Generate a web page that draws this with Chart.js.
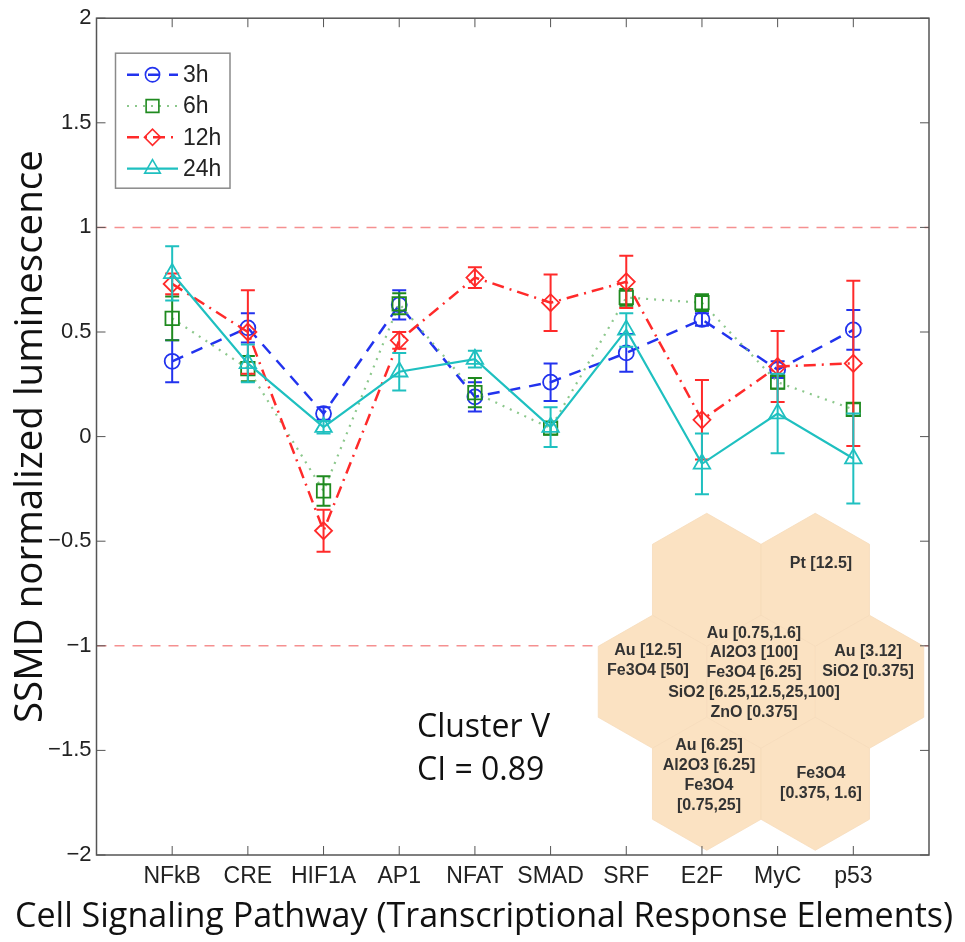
<!DOCTYPE html>
<html>
<head>
<meta charset="utf-8">
<script src="https://cdn.jsdelivr.net/npm/chart.js@4.4.1/dist/chart.umd.min.js"></script>
<style>
  body { margin: 0; background: #fff; }
  #wrap { width: 965px; height: 942px; }
</style>
</head>
<body>
<div id="wrap"><canvas id="myChart" width="965" height="942"></canvas></div>
<script>
'use strict';

// pathways on the x axis
const categories = ['NFkB', 'CRE', 'HIF1A', 'AP1', 'NFAT', 'SMAD', 'SRF', 'E2F', 'MyC', 'p53'];
const seriesNames = ['3h', '6h', '12h', '24h'];
const xTitle = 'Cell Signaling Pathway (Transcriptional Response Elements)';

// SSMD means and error bar half widths
const values3h = [0.36, 0.52, 0.11, 0.63, 0.19, 0.26, 0.40, 0.56, 0.32, 0.51];
const err3h = [0.10, 0.07, 0.03, 0.07, 0.07, 0.09, 0.09, 0.03, 0.04, 0.095];
const values6h = [0.565, 0.325, -0.26, 0.635, 0.21, 0.04, 0.665, 0.64, 0.26, 0.13];
const err6h = [0.105, 0.06, 0.07, 0.05, 0.07, 0.03, 0.04, 0.04, 0.03, 0.03];
const values12h = [0.73, 0.50, -0.45, 0.46, 0.76, 0.64, 0.74, 0.08, 0.335, 0.35];
const err12h = [0.05, 0.20, 0.10, 0.04, 0.05, 0.135, 0.125, 0.19, 0.17, 0.395];
const values24h = [0.78, 0.35, 0.045, 0.31, 0.37, 0.045, 0.51, -0.13, 0.11, -0.105];
const err24h = [0.13, 0.09, 0.03, 0.09, 0.04, 0.095, 0.08, 0.145, 0.19, 0.215];

const thresholds = [1, -1];

// hexagon inset text (cluster members)
const hexTexts = [
  [60, -118, ['Pt [12.5]']],
  [-113, -21, ['Au [12.5]', 'Fe3O4 [50]']],
  [-7, -9, ['Au [0.75,1.6]', 'Al2O3 [100]', 'Fe3O4 [6.25]', 'SiO2 [6.25,12.5,25,100]', 'ZnO [0.375]']],
  [107, -20, ['Au [3.12]', 'SiO2 [0.375]']],
  [-52, 94, ['Au [6.25]', 'Al2O3 [6.25]', 'Fe3O4', '[0.75,25]']],
  [60, 102, ['Fe3O4', '[0.375, 1.6]']]
];

function toPoints(vals) {
  return vals.map((v, i) => ({ x: i + 1, y: v }));
}

const blue = '#2233ee';
const green = '#1f8a1f';
const red = '#ff2a2a';
const cyan = '#1fc0c0';

const datasets = [
  {
    label: seriesNames[0], data: toPoints(values3h), errors: err3h, barColor: blue,
    borderColor: blue, borderWidth: 2.5, borderDash: [12, 9],
    pointStyle: 'circle', pointRadius: 7.5, pointBorderWidth: 1.8,
    pointBorderColor: blue, pointBackgroundColor: 'rgba(0,0,0,0)', order: 3
  },
  {
    label: seriesNames[1], data: toPoints(values6h), errors: err6h, barColor: green,
    borderColor: 'rgba(120,190,120,0.85)', borderWidth: 2.2, borderDash: [2, 6],
    pointStyle: 'rect', pointRadius: 9.5, pointBorderWidth: 1.8,
    pointBorderColor: green, pointBackgroundColor: 'rgba(0,0,0,0)', order: 2
  },
  {
    label: seriesNames[2], data: toPoints(values12h), errors: err12h, barColor: red,
    borderColor: red, borderWidth: 2.5, borderDash: [12, 6, 2, 6],
    pointStyle: 'rectRot', pointRadius: 8.5, pointBorderWidth: 1.8,
    pointBorderColor: red, pointBackgroundColor: 'rgba(0,0,0,0)', order: 1
  },
  {
    label: seriesNames[3], data: toPoints(values24h), errors: err24h, barColor: cyan,
    borderColor: cyan, borderWidth: 2.2, borderDash: [],
    pointStyle: 'triangle', pointRadius: 9.5, pointBorderWidth: 1.8,
    pointBorderColor: cyan, pointBackgroundColor: 'rgba(0,0,0,0)', order: 0
  }
];

const backdropPlugin = {
  id: 'backdrop',
  beforeDatasetsDraw(chart) {
    const { ctx, chartArea, scales: { x, y } } = chart;
    ctx.save();
    ctx.strokeStyle = '#f59090';
    ctx.lineWidth = 1.5;
    ctx.setLineDash([10, 8]);
    thresholds.forEach(t => {
      const py = y.getPixelForValue(t);
      ctx.beginPath();
      ctx.moveTo(chartArea.left, py);
      ctx.lineTo(chartArea.right, py);
      ctx.stroke();
    });
    ctx.setLineDash([]);

    // hexagon cluster
    const cx = x.getPixelForValue(8.78);
    const cy = y.getPixelForValue(-1.172);
    const hw = 54.25, hs = 35.5, rise = 31;
    const dy = 2 * hs + rise;
    const cells = [[-0.5, -1], [0.5, -1], [-1, 0], [0, 0], [1, 0], [-0.5, 1], [0.5, 1]];
    cells.forEach(([i, j]) => {
      const hx = cx + i * 2 * hw, hy = cy + j * dy;
      ctx.beginPath();
      ctx.moveTo(hx, hy - hs - rise);
      ctx.lineTo(hx + hw, hy - hs);
      ctx.lineTo(hx + hw, hy + hs);
      ctx.lineTo(hx, hy + hs + rise);
      ctx.lineTo(hx - hw, hy + hs);
      ctx.lineTo(hx - hw, hy - hs);
      ctx.closePath();
      ctx.fillStyle = '#fbe2c2';
      ctx.fill();
      ctx.strokeStyle = '#f6dcbb';
      ctx.lineWidth = 0.8;
      ctx.stroke();
    });

    ctx.fillStyle = '#333';
    ctx.font = 'bold 16px "Liberation Sans", Arial, sans-serif';
    ctx.textAlign = 'center';
    ctx.textBaseline = 'middle';
    const lh = 19.8;
    hexTexts.forEach(([ox, oy, lines]) => {
      const top = cy + oy - (lines.length - 1) * lh / 2;
      lines.forEach((s, k) => ctx.fillText(s, cx + ox, top + k * lh));
    });
    ctx.restore();
  }
};

const errorBarPlugin = {
  id: 'errorBars',
  afterDatasetDraw(chart, args) {
    const ds = chart.data.datasets[args.index];
    if (!ds.errors) return;
    const { ctx, scales: { y } } = chart;
    ctx.save();
    ctx.strokeStyle = ds.barColor;
    ctx.lineWidth = 2;
    args.meta.data.forEach((pt, i) => {
      const v = ds.data[i].y;
      const top = y.getPixelForValue(v + ds.errors[i]);
      const bot = y.getPixelForValue(v - ds.errors[i]);
      ctx.beginPath();
      ctx.moveTo(pt.x, top); ctx.lineTo(pt.x, bot);
      ctx.moveTo(pt.x - 7, top); ctx.lineTo(pt.x + 7, top);
      ctx.moveTo(pt.x - 7, bot); ctx.lineTo(pt.x + 7, bot);
      ctx.stroke();
    });
    ctx.restore();
  }
};

const framePlugin = {
  id: 'frame',
  afterDraw(chart) {
    const { ctx, chartArea: a, scales: { x, y } } = chart;
    ctx.save();
    ctx.strokeStyle = '#555';
    ctx.lineWidth = 1;
    ctx.beginPath();
    y.ticks.forEach(t => {
      const py = y.getPixelForValue(t.value);
      ctx.moveTo(a.left, py); ctx.lineTo(a.left + 9, py);
      ctx.moveTo(a.right, py); ctx.lineTo(a.right - 9, py);
    });
    x.ticks.forEach(t => {
      if (t.value < 1 || t.value > categories.length) return;
      const px = x.getPixelForValue(t.value);
      ctx.moveTo(px, a.bottom); ctx.lineTo(px, a.bottom - 9);
      ctx.moveTo(px, a.top); ctx.lineTo(px, a.top + 9);
    });
    ctx.stroke();
    ctx.lineWidth = 1.5;
    ctx.strokeRect(a.left, a.top, a.right - a.left, a.bottom - a.top);

    // legend
    const bx = a.left + 19, by = a.top + 35;
    ctx.fillStyle = '#fff';
    ctx.fillRect(bx, by, 114.5, 135);
    ctx.strokeStyle = '#8a8a8a';
    ctx.strokeRect(bx, by, 114.5, 135);
    ctx.font = '23px "Liberation Sans", Arial, sans-serif';
    ctx.textBaseline = 'middle';
    ctx.textAlign = 'left';
    chart.data.datasets.forEach((ds, i) => {
      const ly = by + 21.5 + i * 31.3;
      ctx.strokeStyle = ds.borderColor;
      ctx.lineWidth = ds.borderWidth;
      ctx.setLineDash(ds.borderDash);
      ctx.beginPath();
      ctx.moveTo(bx + 11.5, ly); ctx.lineTo(bx + 62.5, ly);
      ctx.stroke();
      ctx.setLineDash([]);
      ctx.strokeStyle = ds.pointBorderColor;
      ctx.fillStyle = 'rgba(0,0,0,0)';
      ctx.lineWidth = 1.6;
      Chart.helpers.drawPoint(ctx, { pointStyle: ds.pointStyle, radius: ds.pointRadius * 0.95, rotation: 0, borderWidth: 1.6 }, bx + 37, ly);
      ctx.fillStyle = '#222';
      ctx.fillText(ds.label, bx + 67.5, ly + 1);
    });

    // cluster label
    ctx.fillStyle = '#111';
    ctx.font = '32px "Open Sans", sans-serif';
    ctx.textBaseline = 'alphabetic';
    ctx.fillText('Cluster V', 417, 737);
    ctx.fillText('CI = 0.89', 417, 780);

    // x axis title, wider than the plot area so drawn here
    ctx.font = '33px "Open Sans", sans-serif';
    const size = 33 * 940 / ctx.measureText(xTitle).width;
    ctx.font = size.toFixed(1) + 'px "Open Sans", sans-serif';
    ctx.textAlign = 'center';
    ctx.textBaseline = 'middle';
    ctx.fillText(xTitle, 484, 917);
    ctx.restore();
  }
};

const config = {
  type: 'line',
  data: { datasets: datasets },
  options: {
    responsive: false,
    animation: false,
    devicePixelRatio: 1,
    layout: { padding: { top: 16, right: 36, left: 0, bottom: 0 } },
    plugins: { legend: { display: false }, tooltip: { enabled: false } },
    elements: { line: { tension: 0 } },
    scales: {
      x: {
        type: 'linear',
        min: 0,
        max: 11,
        grid: { display: false, drawTicks: false },
        border: { display: false },
        ticks: {
          stepSize: 1,
          autoSkip: false,
          maxRotation: 0,
          padding: 8,
          color: '#222',
          font: { family: '"Liberation Sans", Arial, sans-serif', size: 23 },
          callback: v => categories[v - 1] || ''
        },
        title: { display: false },
        afterFit(scale) { scale.height = 87; }
      },
      y: {
        min: -2,
        max: 2,
        grid: { display: false, drawTicks: false },
        border: { display: false },
        ticks: {
          stepSize: 0.5,
          padding: 5,
          color: '#222',
          font: { family: '"Liberation Sans", Arial, sans-serif', size: 22 },
          callback: v => String(v).replace('-', '\u2212')
        },
        title: {
          display: true,
          text: 'SSMD normalized luminescence',
          color: '#111',
          font: { family: '"Open Sans", sans-serif', size: 38.5, lineHeight: 1.2 },
          padding: { top: 8, bottom: 0 }
        },
        afterFit(scale) { scale.width = 96.5; }
      }
    }
  },
  plugins: [backdropPlugin, errorBarPlugin, framePlugin]
};

const myChart = new Chart(document.getElementById('myChart'), config);
</script>
</body>
</html>
